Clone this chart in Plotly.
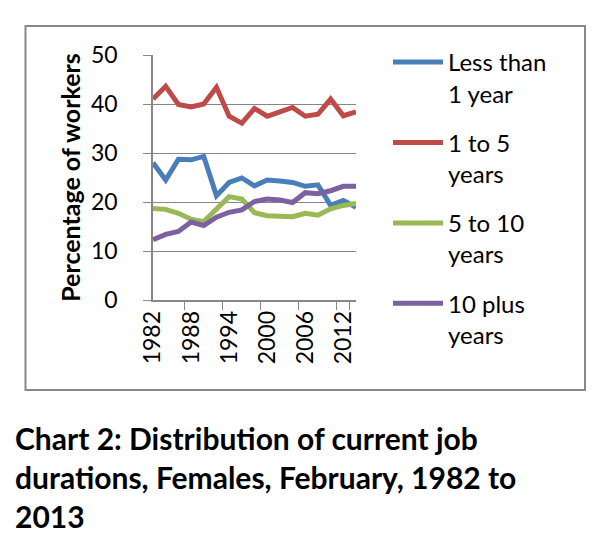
import plotly.graph_objects as go

years = ["1982", "1984", "1986", "1988", "1990", "1992", "1994", "1996", "1998",
         "2000", "2002", "2004", "2006", "2008", "2010", "2012", "2013"]
less_than_1 = [28.0, 24.5, 28.7, 28.6, 29.3, 21.3, 24.0, 24.9, 23.3, 24.5, 24.3, 24.0, 23.2, 23.5, 19.3, 20.3, 18.9]
one_to_5 = [41.0, 43.6, 39.9, 39.4, 40.0, 43.4, 37.5, 36.1, 39.1, 37.5, 38.4, 39.3, 37.5, 37.9, 41.0, 37.6, 38.4]
five_to_10 = [18.7, 18.5, 17.7, 16.5, 16.0, 18.6, 21.1, 20.6, 17.8, 17.2, 17.0, 17.0, 17.7, 17.3, 18.6, 19.3, 19.7]
ten_plus = [12.3, 13.4, 14.0, 15.9, 15.2, 16.9, 17.9, 18.4, 20.1, 20.6, 20.4, 19.9, 21.9, 21.7, 22.3, 23.2, 23.2]

series = [
    ("Less than<br>1 year", less_than_1, "#4a7ebb"),
    ("1 to 5<br>years", one_to_5, "#be4b48"),
    ("5 to 10<br>years", five_to_10, "#98b954"),
    ("10 plus<br>years", ten_plus, "#7d60a0"),
]

FONT = "Lato, Open Sans, sans-serif"

# plot area in pixels
L, R, T, B = 145, 348, 47, 292
W, H = R - L, B - T


def px_x(p):
    return (p - L) / W


def px_y(p):
    return (B - p) / H


fig = go.Figure()
for i, (name, vals, col) in enumerate(series):
    fig.add_trace(go.Scatter(x=years, y=vals, mode="lines", name=name,
                             legendgroup=f"g{i}",
                             line=dict(color=col, width=5)))

fig.update_layout(
    width=602, height=542,
    margin=dict(l=L, r=602 - R, t=T, b=542 - B, autoexpand=False),
    paper_bgcolor="white", plot_bgcolor="white",
    font=dict(family=FONT, size=23, color="black"),
    showlegend=True,
    legend=dict(x=px_x(380), y=px_y(47 - 15), xanchor="left", yanchor="top", valign="top",
                font=dict(size=24), traceorder="grouped", tracegroupgap=15,
                itemwidth=50, maxheight=600),
    xaxis=dict(type="category", tickangle=-90,
               tickvals=["1982", "1988", "1994", "2000", "2006", "2012"],
               ticks="outside", tickson="boundaries", ticklen=8, tickcolor="#888",
               showline=True, linecolor="#888", linewidth=1.5,
               showgrid=False, tickfont=dict(size=23), ticklabelstandoff=0),
    yaxis=dict(range=[0, 50], dtick=10, ticks="outside", ticklen=8, tickcolor="#888",
               showline=True, linecolor="#888", linewidth=1.5,
               gridcolor="#868686", gridwidth=1.3, zeroline=False,
               tickfont=dict(size=23), ticklabelstandoff=21,
               title=dict(text="<b>Percentage of workers</b>", font=dict(size=25), standoff=3)),
)

fig.add_annotation(
    text="<b>Chart 2: Distribution of current job<br>durations, Females, February, 1982 to<br>2013</b>",
    xref="paper", yref="paper", x=px_x(5), y=px_y(410),
    xanchor="left", yanchor="top",
    align="left", showarrow=False, font=dict(size=30, family=FONT))

# chart frame
fig.add_shape(type="rect", xref="paper", yref="paper",
              x0=px_x(17.5), x1=px_x(577), y0=px_y(382), y1=px_y(18),
              line=dict(color="#888888", width=2), fillcolor="rgba(0,0,0,0)", layer="below")

fig.write_html("out.html")
